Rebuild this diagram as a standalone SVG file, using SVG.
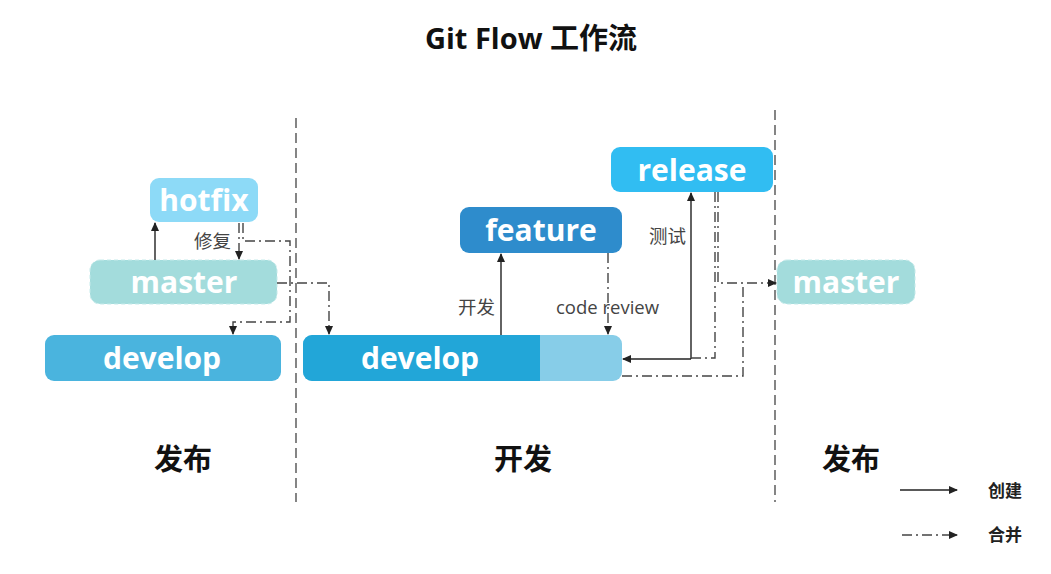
<svg xmlns="http://www.w3.org/2000/svg" width="1051" height="574" viewBox="0 0 1051 574">
<defs>
<marker id="ah" markerWidth="10" markerHeight="10" refX="8" refY="4" orient="auto" markerUnits="userSpaceOnUse"><path d="M0,0 L9,4 L0,8 Z" fill="#222"/></marker>
<style>
.nt{font-family:"Open Sans","Noto Sans CJK SC",sans-serif;font-weight:700;font-size:30px;fill:#fff;text-anchor:middle}
.lb{font-family:"Open Sans","Noto Sans CJK SC",sans-serif;font-size:18.5px;fill:#444}
.sec{font-family:"Noto Sans CJK SC",sans-serif;font-weight:700;font-size:29px;fill:#111;text-anchor:middle}
.sep{stroke:#444;stroke-width:1.3;stroke-dasharray:10 5;fill:none}
.cr{stroke:#222;stroke-width:1.4;fill:none}
.mg{stroke:#444;stroke-width:1.4;fill:none;stroke-dasharray:10 4 2 4}
</style>
</defs>
<rect width="1051" height="574" fill="#fff"/>
<text x="531" y="49" font-family="Open Sans,Noto Sans CJK SC,sans-serif" font-weight="700" font-size="29" fill="#111" text-anchor="middle">Git Flow 工作流</text>
<g id="separators">
<line class="sep" x1="296" y1="118" x2="296" y2="502"/>
<line class="sep" x1="775" y1="110" x2="775" y2="502"/>
</g>
<g id="hotfix"><rect x="150" y="178" width="108" height="44" rx="9" fill="#8ddaf7"/><text class="nt" x="204" y="211">hotfix</text></g>
<g id="master-left"><rect x="90" y="260" width="187" height="44" rx="10" fill="#a3dcdc" stroke="#c4eaea" stroke-dasharray="4 3"/><text class="nt" x="184" y="293">master</text></g>
<g id="develop-left"><rect x="45" y="335" width="236" height="46" rx="9" fill="#4ab4de"/><text class="nt" x="162" y="369">develop</text></g>
<g id="develop-main"><rect x="303" y="335" width="319" height="46" rx="9" fill="#87cde8"/><path d="M312,335 H540 V381 H312 A9,9 0 0 1 303,372 V344 A9,9 0 0 1 312,335 Z" fill="#22a6d8"/><text class="nt" x="420" y="369">develop</text></g>
<g id="feature"><rect x="460" y="207" width="162" height="46" rx="9" fill="#2e8ccc"/><text class="nt" x="541" y="241">feature</text></g>
<g id="release"><rect x="611" y="147" width="162" height="45" rx="9" fill="#31bdf2"/><text class="nt" x="692" y="181">release</text></g>
<g id="master-right"><rect x="777" y="260" width="138" height="44" rx="10" fill="#a3dcdc" stroke="#c4eaea" stroke-dasharray="4 3"/><text class="nt" x="846" y="293">master</text></g>
<g id="connectors">
<line class="cr" x1="155" y1="260" x2="155" y2="223" marker-end="url(#ah)"/>
<path class="mg" d="M239,223 V259" marker-end="url(#ah)"/>
<path class="mg" d="M243,223 V241 H290 V322 H233 V334" marker-end="url(#ah)"/>
<path class="mg" d="M277,283 H329 V334" marker-end="url(#ah)"/>
<line class="cr" x1="501" y1="335" x2="501" y2="254" marker-end="url(#ah)"/>
<path class="mg" d="M608,253 V334" marker-end="url(#ah)"/>
<line class="cr" x1="691" y1="359" x2="691" y2="193" marker-end="url(#ah)"/>
<line class="cr" x1="691" y1="359" x2="623" y2="359" marker-end="url(#ah)"/>
<path class="mg" d="M715,192 V358 H691"/>
<path class="mg" d="M718,192 V283 H776" marker-end="url(#ah)"/>
<path class="mg" d="M622,376 H743 V283"/>
</g>
<g id="labels">
<text class="lb" x="194" y="248">修复</text>
<text class="lb" x="458" y="314">开发</text>
<text class="lb" x="556" y="314">code review</text>
<text class="lb" x="649" y="243">测试</text>
</g>
<g id="sections">
<text class="sec" x="183" y="470">发布</text>
<text class="sec" x="523" y="470">开发</text>
<text class="sec" x="851" y="470">发布</text>
</g>
<g id="legend">
<line class="cr" x1="900" y1="490" x2="957" y2="490" marker-end="url(#ah)"/>
<text x="1005" y="497" font-family="Noto Sans CJK SC,sans-serif" font-weight="700" font-size="17" fill="#222" text-anchor="middle">创建</text>
<path class="mg" d="M902,535 H957" marker-end="url(#ah)"/>
<text x="1005" y="541" font-family="Noto Sans CJK SC,sans-serif" font-weight="700" font-size="17" fill="#222" text-anchor="middle">合并</text>
</g>
</svg>
